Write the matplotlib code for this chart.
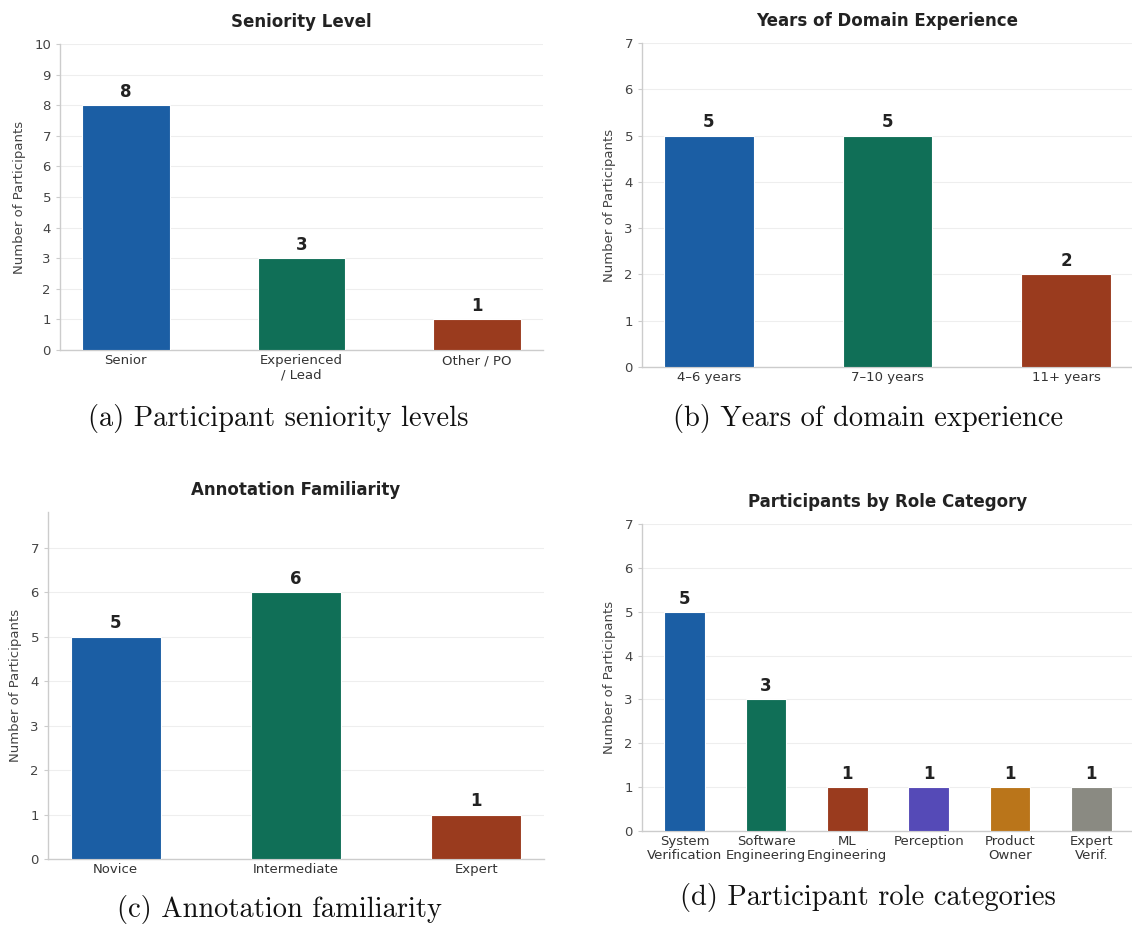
import matplotlib.pyplot as plt

# participant survey counts
seniority_labels = ["Senior", "Experienced\n/ Lead", "Other / PO"]
seniority_counts = [8, 3, 1]

experience_labels = ["4–6 years", "7–10 years", "11+ years"]
experience_counts = [5, 5, 2]

familiarity_labels = ["Novice", "Intermediate", "Expert"]
familiarity_counts = [5, 6, 1]

role_labels = ["System\nVerification", "Software\nEngineering", "ML\nEngineering",
               "Perception", "Product\nOwner", "Expert\nVerif."]
role_counts = [5, 3, 1, 1, 1, 1]

palette = ["#1B5EA4", "#106F57", "#9A3B1E", "#554AB7", "#BA751A", "#8A8A82"]

W, H = 1132, 925
fig = plt.figure(figsize=(W / 100, H / 100), dpi=100)


def panel(left, top, right, bottom):
    return fig.add_axes([left / W, 1 - bottom / H, (right - left) / W, (bottom - top) / H])


def draw_bars(ax, labels, counts, title, ymax):
    x = list(range(len(labels)))
    bars = ax.bar(x, counts, width=0.5, color=palette[:len(labels)],
                  edgecolor="white", linewidth=0.8, zorder=3)
    for rect, n in zip(bars, counts):
        ax.annotate(str(n), (rect.get_x() + rect.get_width() / 2, rect.get_height()),
                    xytext=(0, 3), textcoords="offset points",
                    ha="center", va="bottom", fontsize=12, fontweight="bold",
                    color="#222222")
    ax.set_xticks(x)
    ax.set_xticklabels(labels, fontsize=9.5, color="#333333", linespacing=1.1)
    ax.set_ylim(0, ymax)
    ax.set_yticks(range(0, int(ymax) + 1))
    ax.tick_params(axis="y", labelsize=9.5, labelcolor="#444444", color="#cccccc",
                   length=3, width=0.8)
    ax.tick_params(axis="x", length=0, pad=3)
    ax.set_ylabel("Number of Participants", fontsize=9.5, color="#444444", labelpad=6)
    ax.set_title(title, fontsize=12, fontweight="bold", color="#222222", pad=12)
    ax.grid(axis="y", color="#eeeeee", linewidth=0.8)
    ax.set_axisbelow(True)
    for side in ("top", "right"):
        ax.spines[side].set_visible(False)
    for side in ("left", "bottom"):
        ax.spines[side].set_color("#cccccc")
        ax.spines[side].set_linewidth(1.0)


ax_a = panel(60, 44, 543, 350)
draw_bars(ax_a, seniority_labels, seniority_counts, "Seniority Level", 10)

ax_b = panel(642, 43, 1133, 367)
draw_bars(ax_b, experience_labels, experience_counts, "Years of Domain Experience", 7)

ax_c = panel(48, 512, 544, 859)
draw_bars(ax_c, familiarity_labels, familiarity_counts, "Annotation Familiarity", 7.8)

ax_d = panel(642, 524, 1134, 831)
draw_bars(ax_d, role_labels, role_counts, "Participants by Role Category", 7)

captions = [
    ("(a) Participant seniority levels", 278, 418),
    ("(b) Years of domain experience", 868, 418),
    ("(c) Annotation familiarity", 279, 910),
    ("(d) Participant role categories", 868, 898),
]
for text, cx, cy in captions:
    fig.text(cx / W, 1 - cy / H, text, ha="center", va="center",
             fontsize=20.5, family="cmr10", color="#111111")

fig.savefig("out.png", dpi=100)
